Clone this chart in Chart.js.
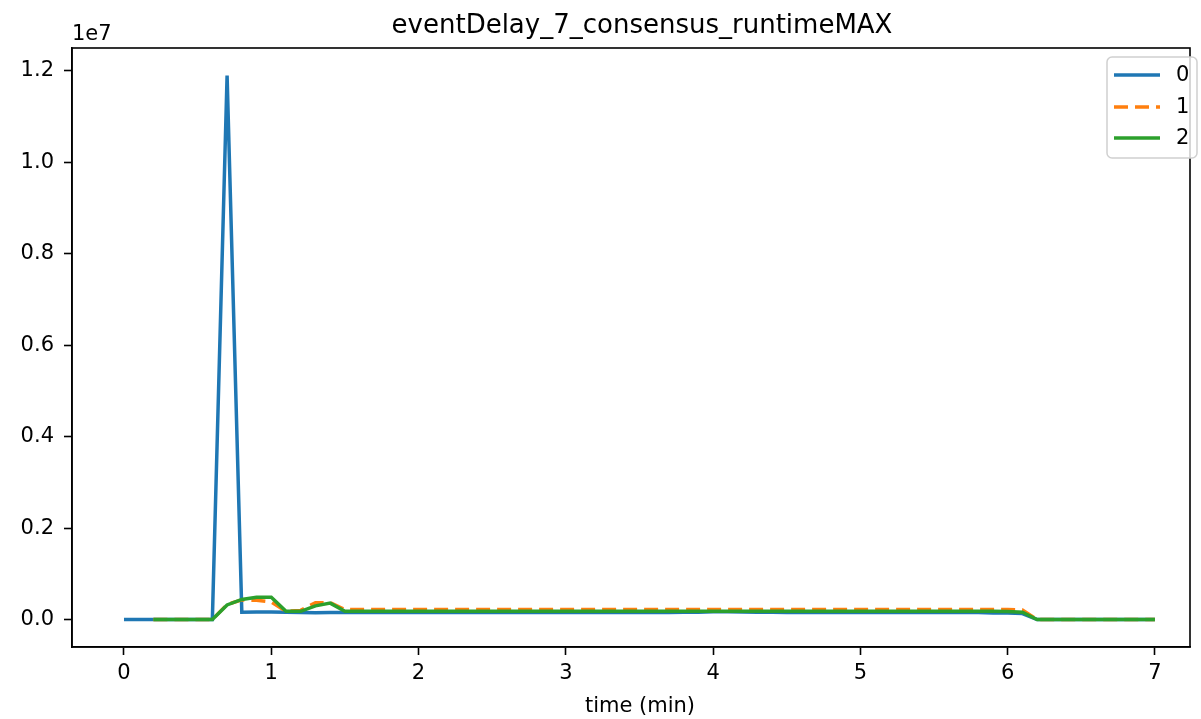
<!DOCTYPE html>
<html>
<head>
<meta charset="utf-8">
<script src="https://cdn.jsdelivr.net/npm/chart.js@4/dist/chart.umd.min.js"></script>
<style>
  html, body { margin: 0; padding: 0; background: #fff; }
  canvas { display: block; }
</style>
</head>
<body>
<canvas id="c" width="1201" height="719"></canvas>
<script>
const title = 'eventDelay_7_consensus_runtimeMAX';
const xLabel = 'time (min)';

// time axis (min)
const t0 = [0, 0.1, 0.2, 0.3, 0.4, 0.5, 0.6, 0.7, 0.8, 0.9,
  1.0, 1.1, 1.2, 1.3, 1.4, 1.5, 1.6, 1.7, 1.8, 1.9,
  2.0, 2.1, 2.2, 2.3, 2.4, 2.5, 2.6, 2.7, 2.8, 2.9,
  3.0, 3.1, 3.2, 3.3, 3.4, 3.5, 3.6, 3.7, 3.8, 3.9,
  4.0, 4.1, 4.2, 4.3, 4.4, 4.5, 4.6, 4.7, 4.8, 4.9,
  5.0, 5.1, 5.2, 5.3, 5.4, 5.5, 5.6, 5.7, 5.8, 5.9,
  6.0, 6.1, 6.2, 6.3, 6.4, 6.5, 6.6, 6.7, 6.8, 6.9, 7.0];
const t12 = t0.slice(2);

const s0 = [0, 0, 0, 0, 0, 0, 0, 11900000, 160000, 165000,
  165000, 160000, 155000, 150000, 155000, 155000, 155000, 155000, 155000, 155000,
  155000, 155000, 155000, 155000, 155000, 155000, 155000, 155000, 155000, 155000,
  155000, 155000, 155000, 155000, 155000, 155000, 155000, 155000, 158000, 162000,
  170000, 172000, 165000, 160000, 158000, 155000, 155000, 155000, 155000, 155000,
  155000, 155000, 155000, 155000, 155000, 155000, 155000, 155000, 155000, 145000,
  145000, 130000, 0, 0, 0, 0, 0, 0, 0, 0, 0];

const s1 = [0, 0, 0, 0, 0, 330000, 430000, 420000,
  385000, 180000, 200000, 370000, 370000, 220000, 220000, 220000, 220000, 220000,
  220000, 220000, 220000, 220000, 220000, 220000, 220000, 220000, 220000, 220000,
  220000, 220000, 220000, 220000, 220000, 220000, 220000, 220000, 220000, 220000,
  220000, 220000, 220000, 220000, 220000, 220000, 220000, 220000, 220000, 220000,
  220000, 220000, 220000, 220000, 220000, 220000, 220000, 220000, 220000, 220000,
  220000, 210000, 0, 0, 0, 0, 0, 0, 0, 0, 0];

const s2 = [0, 0, 0, 0, 0, 320000, 440000, 490000,
  490000, 180000, 180000, 300000, 360000, 180000, 180000, 180000, 180000, 180000,
  180000, 180000, 180000, 180000, 180000, 180000, 180000, 180000, 180000, 180000,
  180000, 180000, 180000, 180000, 180000, 180000, 180000, 180000, 180000, 180000,
  180000, 180000, 180000, 180000, 180000, 180000, 180000, 180000, 180000, 180000,
  180000, 180000, 180000, 180000, 180000, 180000, 180000, 180000, 180000, 180000,
  175000, 160000, 0, 0, 0, 0, 0, 0, 0, 0, 0];

const seriesNames = ['0', '1', '2'];
const colors = ['#1f77b4', '#ff7f0e', '#2ca02c'];
const xTicks = [0, 1, 2, 3, 4, 5, 6, 7];
const yTicks = [0, 2000000, 4000000, 6000000, 8000000, 10000000, 12000000];

const zip = (xs, ys) => xs.map((x, i) => ({ x, y: ys[i] }));

Chart.defaults.font.family = "'DejaVu Sans', sans-serif";
Chart.defaults.font.size = 21;
Chart.defaults.color = '#000';

// later series drawn on top, like the original
const ds = (i, xs, ys, dash) => ({
  label: seriesNames[i], data: zip(xs, ys), borderColor: colors[i], backgroundColor: colors[i],
  borderWidth: 3.5, borderDash: dash || [], pointRadius: 0, tension: 0, order: 2 - i,
});

// frame, title, offset text, x label, legend
const deco = {
  id: 'deco',
  afterDraw(c) {
    const { ctx, chartArea: a } = c;
    ctx.save();
    ctx.strokeStyle = '#000'; ctx.lineWidth = 1.6;
    ctx.strokeRect(a.left, a.top, a.right - a.left, a.bottom - a.top);
    ctx.fillStyle = '#000';
    ctx.textAlign = 'center'; ctx.textBaseline = 'alphabetic';
    ctx.font = "26px 'DejaVu Sans'";
    ctx.fillText(title, 642, 33);
    ctx.font = "21px 'DejaVu Sans'";
    ctx.fillText(xLabel, 640, 712);
    ctx.textAlign = 'left';
    ctx.fillText('1e7', a.left, 40);

    // legend
    const bx = 1107, by = 57, bw = 90, bh = 101, r = 5;
    ctx.beginPath();
    ctx.roundRect(bx, by, bw, bh, r);
    ctx.fillStyle = 'rgba(255,255,255,0.8)'; ctx.fill();
    ctx.strokeStyle = '#d0d0d0'; ctx.lineWidth = 1.5; ctx.stroke();
    const rows = [75, 107, 138];
    seriesNames.forEach((name, i) => {
      const d = c.data.datasets[i];
      ctx.beginPath();
      ctx.strokeStyle = d.borderColor; ctx.lineWidth = 3.5;
      ctx.setLineDash(d.borderDash);
      ctx.moveTo(1114, rows[i]); ctx.lineTo(1160, rows[i]); ctx.stroke();
      ctx.setLineDash([]);
      ctx.fillStyle = '#000'; ctx.textBaseline = 'middle';
      ctx.fillText(name, 1176, rows[i] + 1);
    });
    ctx.restore();
  }
};

new Chart(document.getElementById('c'), {
  type: 'line',
  data: { datasets: [ds(0, t0, s0), ds(1, t12, s1, [14, 7]), ds(2, t12, s2)] },
  options: {
    responsive: false, animation: false,
    layout: { padding: { top: 48, right: 11, left: 0, bottom: 0 } },
    plugins: { legend: { display: false }, title: { display: false }, tooltip: { enabled: false } },
    scales: {
      x: {
        type: 'linear', min: -0.353, max: 7.238,
        afterBuildTicks: s => { s.ticks = xTicks.map(v => ({ value: v })); },
        afterFit: s => { s.height = 72; },
        ticks: { autoSkip: false, maxRotation: 0, padding: 6, callback: v => String(v) },
        grid: { drawOnChartArea: false, drawTicks: true, tickLength: 8, tickColor: '#000', tickWidth: 1.6 },
        border: { display: true, color: '#000', width: 1.6 },
      },
      y: {
        type: 'linear', min: -600000, max: 12500000,
        afterBuildTicks: s => { s.ticks = yTicks.map(v => ({ value: v })); },
        afterFit: s => { s.width = 72; },
        ticks: { autoSkip: false, padding: 10, callback: v => (v / 1e7).toFixed(1) },
        grid: { drawOnChartArea: false, drawTicks: true, tickLength: 8, tickColor: '#000', tickWidth: 1.6 },
        border: { display: true, color: '#000', width: 1.6 },
      },
    },
  },
  plugins: [deco],
});
</script>
</body>
</html>
